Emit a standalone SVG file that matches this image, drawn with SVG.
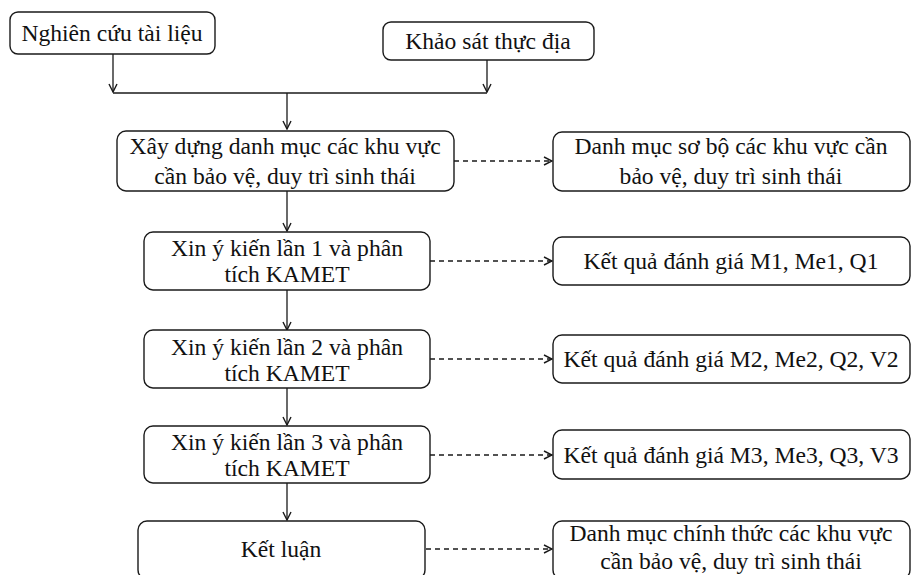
<svg xmlns="http://www.w3.org/2000/svg" width="912" height="575" viewBox="0 0 912 575">
<style>
.box{fill:#fff;stroke:#1a1a1a;stroke-width:1.4}
text{font-family:'Liberation Serif','Times New Roman',Times,serif;font-size:23.6px;fill:#111;text-anchor:middle}
.ln{fill:none;stroke:#1a1a1a;stroke-width:1.3}
.dash{fill:none;stroke:#1a1a1a;stroke-width:1.3;stroke-dasharray:5 4}
</style>
<defs>
<marker id="arr" viewBox="0 0 10 10" refX="9" refY="5" markerWidth="10" markerHeight="10" markerUnits="userSpaceOnUse" orient="auto">
<path d="M1,1 L9,5 L1,9" fill="none" stroke="#1a1a1a" stroke-width="1.4"/>
</marker>
</defs>
<rect width="912" height="575" fill="#fff"/>
<g id="connectors">
<path class="ln" d="M113,54 V92" marker-end="url(#arr)"/>
<path class="ln" d="M487,60 V92" marker-end="url(#arr)"/>
<path class="ln" d="M113,93 H487"/>
<path class="ln" d="M287,93 V129" marker-end="url(#arr)"/>
<path class="ln" d="M287,191 V231" marker-end="url(#arr)"/>
<path class="ln" d="M287,290 V330" marker-end="url(#arr)"/>
<path class="ln" d="M287,388 V425" marker-end="url(#arr)"/>
<path class="ln" d="M287,483 V520" marker-end="url(#arr)"/>
<path class="dash" d="M454,161 H552" marker-end="url(#arr)"/>
<path class="dash" d="M430,261 H552" marker-end="url(#arr)"/>
<path class="dash" d="M430,359 H552" marker-end="url(#arr)"/>
<path class="dash" d="M430,455 H552" marker-end="url(#arr)"/>
<path class="dash" d="M426,549 H552" marker-end="url(#arr)"/>
</g>
<g id="nghien-cuu">
<rect class="box" x="10" y="12" width="205" height="42" rx="8"/>
<text x="112" y="41">Nghiên cứu tài liệu</text>
</g>
<g id="khao-sat">
<rect class="box" x="383" y="22" width="211" height="38" rx="8"/>
<text x="488" y="49">Khảo sát thực địa</text>
</g>
<g id="xay-dung">
<rect class="box" x="117" y="131" width="337" height="60" rx="9"/>
<text x="285" y="154">Xây dựng danh mục các khu vực</text>
<text x="285" y="184">cần bảo vệ, duy trì sinh thái</text>
</g>
<g id="danh-muc-so-bo">
<rect class="box" x="553" y="132" width="357" height="59" rx="9"/>
<text x="731" y="154">Danh mục sơ bộ các khu vực cần</text>
<text x="731" y="184">bảo vệ, duy trì sinh thái</text>
</g>
<g id="xin-y-kien-1">
<rect class="box" x="144" y="232" width="286" height="58" rx="9"/>
<text x="287" y="256">Xin ý kiến lần 1 và phân</text>
<text x="287" y="282">tích KAMET</text>
</g>
<g id="ket-qua-1">
<rect class="box" x="553" y="237" width="357" height="48" rx="9"/>
<text x="731" y="269">Kết quả đánh giá M1, Me1, Q1</text>
</g>
<g id="xin-y-kien-2">
<rect class="box" x="144" y="330" width="286" height="58" rx="9"/>
<text x="287" y="355">Xin ý kiến lần 2 và phân</text>
<text x="287" y="381">tích KAMET</text>
</g>
<g id="ket-qua-2">
<rect class="box" x="553" y="335" width="357" height="48" rx="9"/>
<text x="731" y="367">Kết quả đánh giá M2, Me2, Q2, V2</text>
</g>
<g id="xin-y-kien-3">
<rect class="box" x="144" y="426" width="286" height="57" rx="9"/>
<text x="287" y="450">Xin ý kiến lần 3 và phân</text>
<text x="287" y="476">tích KAMET</text>
</g>
<g id="ket-qua-3">
<rect class="box" x="553" y="430" width="357" height="49" rx="9"/>
<text x="731" y="463">Kết quả đánh giá M3, Me3, Q3, V3</text>
</g>
<g id="ket-luan">
<rect class="box" x="138" y="521" width="287" height="58" rx="9"/>
<text x="281" y="557">Kết luận</text>
</g>
<g id="danh-muc-chinh-thuc">
<rect class="box" x="553" y="521" width="357" height="58" rx="9"/>
<text x="731" y="541">Danh mục chính thức các khu vực</text>
<text x="731" y="569">cần bảo vệ, duy trì sinh thái</text>
</g>
</svg>
